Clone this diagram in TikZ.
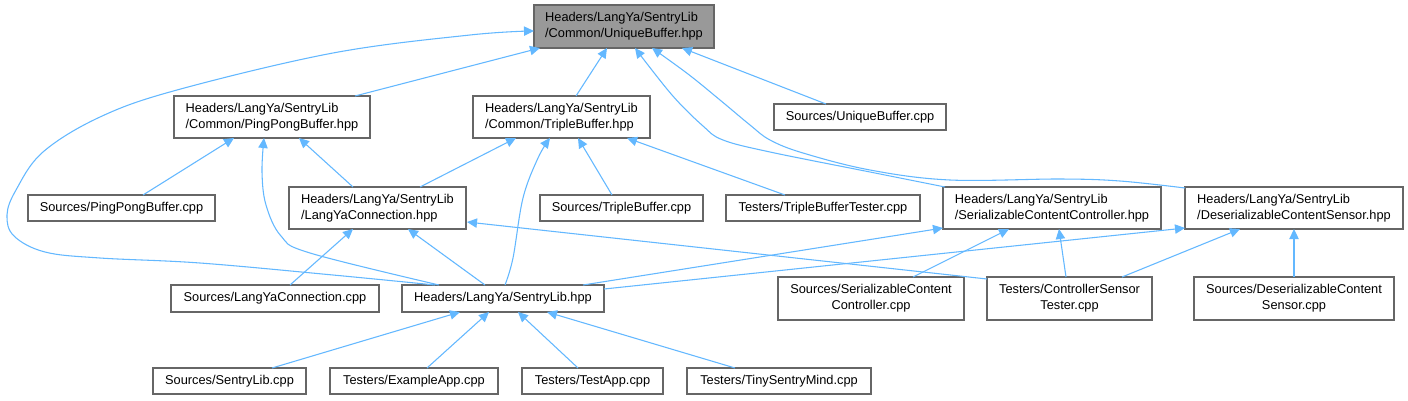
\documentclass[tikz,border=0pt]{standalone}
\usepackage{fontspec}
\setmainfont{Liberation Sans}
\usetikzlibrary{arrows.meta,calc}
\definecolor{edgeblue}{HTML}{63B8FF}
\definecolor{boxgray}{HTML}{666666}
\definecolor{rootgray}{HTML}{999999}
\newcommand\gnode[7]{\node[#2, minimum width={(#5-#3)*0.75pt}, minimum height={(#6-#4)*0.75pt}] (#1) at ({(#3+#5)/2},{(#4+#6)/2}) {#7};}
\begin{document}
\begin{tikzpicture}[x=0.75pt,y=-0.75pt,
  box/.style={draw=boxgray, line width=0.9pt, fill=white, inner sep=0pt, outer sep=0pt, font=\fontsize{9.6}{12}\selectfont, text=black},
  hdr/.style={box, align=left},
  srcbox/.style={box, align=center},
  rootbox/.style={hdr, fill=rootgray},
  edge/.style={draw=edgeblue, line width=0.8pt, -{Triangle[length=7.5pt,width=7pt]}},
  smoothedge/.style={edge, smooth, tension=0.6}]
\fill[white] (0,0) rectangle (1408,400);
\useasboundingbox (0,0) rectangle (1408,400);

\gnode{ub}{rootbox}{534}{5}{714}{48}{Headers/LangYa/SentryLib\\/Common/UniqueBuffer.hpp}
\gnode{ppb}{hdr}{174}{96}{370}{138}{Headers/LangYa/SentryLib\\/Common/PingPongBuffer.hpp}
\gnode{tb}{hdr}{473}{96}{650}{138}{Headers/LangYa/SentryLib\\/Common/TripleBuffer.hpp}
\gnode{ubc}{srcbox}{774}{104}{946}{130}{Sources/UniqueBuffer.cpp}
\gnode{ppbc}{srcbox}{28}{195}{215}{221}{Sources/PingPongBuffer.cpp}
\gnode{lyc}{hdr}{289}{187}{466}{229}{Headers/LangYa/SentryLib\\/LangYaConnection.hpp}
\gnode{tbc}{srcbox}{540}{195}{703}{221}{Sources/TripleBuffer.cpp}
\gnode{tbt}{srcbox}{726}{195}{920}{221}{Testers/TripleBufferTester.cpp}
\gnode{scc}{hdr}{943}{187}{1161}{229}{Headers/LangYa/SentryLib\\/SerializableContentController.hpp}
\gnode{dcs}{hdr}{1185}{187}{1403}{229}{Headers/LangYa/SentryLib\\/DeserializableContentSensor.hpp}
\gnode{lycc}{srcbox}{171}{285}{379}{312}{Sources/LangYaConnection.cpp}
\gnode{sl}{srcbox}{402}{285}{604}{312}{Headers/LangYa/SentryLib.hpp}
\gnode{sccc}{srcbox}{778}{277}{964}{320}{Sources/SerializableContent\\Controller.cpp}
\gnode{cst}{srcbox}{987}{277}{1152}{320}{Testers/ControllerSensor\\Tester.cpp}
\gnode{dcsc}{srcbox}{1194}{277}{1394}{320}{Sources/DeserializableContent\\Sensor.cpp}
\gnode{slc}{srcbox}{153}{368}{306}{394}{Sources/SentryLib.cpp}
\gnode{ex}{srcbox}{330}{368}{498}{394}{Testers/ExampleApp.cpp}
\gnode{ta}{srcbox}{522}{368}{663}{394}{Testers/TestApp.cpp}
\gnode{tsm}{srcbox}{687}{368}{871}{394}{Testers/TinySentryMind.cpp}

% curve end points
\coordinate (c2s) at ($(sl.north west)+(33,0)$);
\coordinate (c2t) at ($(ub.north west)+(0,26)$);
\coordinate (c8s) at ($(sl.north west)+(37,0)$);
\coordinate (c8t) at ($(ppb.south west)+(90,0)$);
\coordinate (c10s) at ($(sl.north west)+(103,0)$);
\coordinate (c10t) at ($(tb.south west)+(77,0)$);
\coordinate (c4s) at ($(scc.north west)+(2,0)$);
\coordinate (c4t) at ($(ub.south west)+(101,0)$);
\coordinate (c5s) at ($(dcs.north west)+(0,1)$);
\coordinate (c5t) at ($(ub.south west)+(118,0)$);

% edges into UniqueBuffer.hpp
\draw[edge] ($(ppb.north west)+(181,0)$) -- ($(ub.south west)+(6,0)$);
\draw[smoothedge] plot coordinates {(c2s) (333,275) (200,263) (100,258) (45,252) (14,236) (7,215) (16,190) (43,152) (100,117) (177,90) (333,53) (470,35) (c2t)};
\draw[edge] ($(tb.north west)+(103,0)$) -- ($(ub.south west)+(73,0)$);
\draw[smoothedge] plot coordinates {(c4s) (870,172) (770,152) (723,140) (703,126) (672,95) (c4t)};
\draw[smoothedge] plot coordinates {(c5s) (1120,181) (1060,179) (950,180) (870,170) (803,153) (770,140) (750,125) (720,100) (688,74) (c5t)};
\draw[edge] ($(ubc.north west)+(52,0)$) -- ($(ub.south west)+(148,0)$);

% edges into PingPongBuffer.hpp
\draw[edge] ($(ppbc.north west)+(115,0)$) -- ($(ppb.south west)+(60,0)$);
\draw[edge] ($(lyc.north west)+(64,0)$) -- ($(ppb.south west)+(125,0)$);
\draw[smoothedge] plot coordinates {(c8s) (310,253) (281,236) (266,205) (262,172) (c8t)};

% edges into TripleBuffer.hpp
\draw[edge] ($(lyc.north west)+(131,0)$) -- ($(tb.south west)+(43,0)$);
\draw[smoothedge] plot coordinates {(c10s) (513,258) (523,198) (538,158) (c10t)};
\draw[edge] ($(tbc.north west)+(72,0)$) -- ($(tb.south west)+(105,0)$);
\draw[edge] ($(tbt.north west)+(59,0)$) -- ($(tb.south west)+(154,0)$);

% edges into LangYaConnection.hpp
\draw[edge] ($(lycc.north west)+(119,0)$) -- ($(lyc.south west)+(64,0)$);
\draw[edge] ($(sl.north west)+(83,0)$) -- ($(lyc.south west)+(119,0)$);
\draw[edge] ($(cst.north west)+(0,2)$) -- ($(lyc.east)+(1,14)$);

% edges into SerializableContentController.hpp / DeserializableContentSensor.hpp
\draw[edge] ($(sl.north west)+(181,0)$) -- ($(scc.south west)+(0,-1)$);
\draw[edge] ($(sl.north east)+(0,4)$) -- ($(dcs.south west)+(0,-1)$);
\draw[edge] ($(sccc.north west)+(135,0)$) -- ($(scc.south west)+(66,0)$);
\draw[edge] ($(cst.north west)+(79,0)$) -- ($(scc.south west)+(116,0)$);
\draw[edge] ($(cst.north west)+(135,0)$) -- ($(dcs.south west)+(55,0)$);
\draw[edge] ($(dcsc.north west)+(100,0)$) -- ($(dcs.south west)+(109,0)$);

% edges into SentryLib.hpp
\draw[edge] ($(slc.north west)+(119,0)$) -- ($(sl.south west)+(58,0)$);
\draw[edge] ($(ex.north west)+(97,0)$) -- ($(sl.south west)+(87,0)$);
\draw[edge] ($(ta.north west)+(56,0)$) -- ($(sl.south west)+(116,0)$);
\draw[edge] ($(tsm.north west)+(48,0)$) -- ($(sl.south west)+(145,0)$);
\end{tikzpicture}
\end{document}
